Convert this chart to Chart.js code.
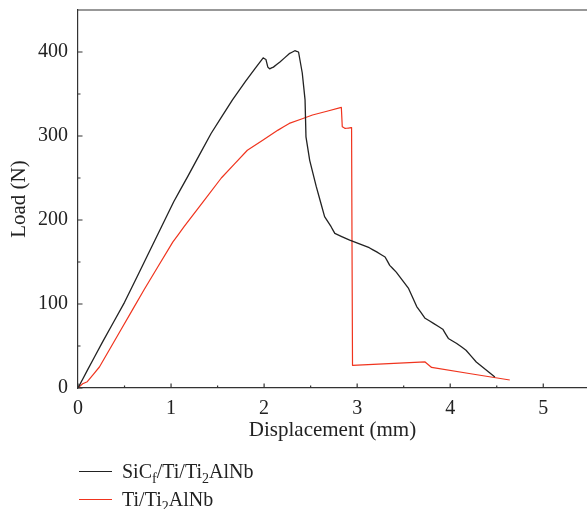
<!DOCTYPE html>
<html lang="en">
<head>
  <meta charset="UTF-8">
  <title>Load vs displacement</title>
  <style>
    body { margin: 0; background: #fff; }
    #wrap { position: relative; width: 587px; height: 509px; }
    #legend {
      position: absolute; left: 79px; top: 457px;
      font-family: "Liberation Serif", serif; font-size: 20px; color: #222;
    }
    .item { height: 28px; display: flex; align-items: center; }
    .swatch { width: 33px; height: 0; border-top: 1.3px solid; margin-right: 10px; }
    sub { font-size: 14px; vertical-align: -5px; line-height: 0; }
  </style>
</head>
<body>
  <div id="wrap">
    <canvas id="chart"></canvas>
    <div id="legend">
      <div class="item"><span class="swatch" style="border-color:#222"></span><span>SiC<sub>f</sub>/Ti/Ti<sub>2</sub>AlNb</span></div>
      <div class="item"><span class="swatch" style="border-color:#f0341e"></span><span>Ti/Ti<sub>2</sub>AlNb</span></div>
    </div>
  </div>

  <script src="https://cdn.jsdelivr.net/npm/chart.js"></script>
  <script>
    // SiCf/Ti/Ti2AlNb
    const sicX = [0, 0.1, 0.26, 0.5, 0.77, 1.03, 1.18, 1.43, 1.66, 1.8, 1.9, 1.99, 2.02, 2.04, 2.06, 2.1, 2.17, 2.27, 2.33, 2.37,
      2.41, 2.44, 2.45, 2.49, 2.56, 2.65, 2.72, 2.76, 2.92, 3.13, 3.21, 3.3, 3.35, 3.42, 3.55, 3.64,
      3.73, 3.82, 3.92, 3.98, 4.07, 4.17, 4.28, 4.38, 4.48];
    const sicY = [0, 21, 54, 102, 163, 222, 252, 303, 343, 365, 380, 393, 391, 382, 380, 382, 388, 398, 401.5, 400,
      375, 343, 299, 271, 240, 204, 192, 184, 176, 167, 162, 156, 146, 138, 119, 97,
      83, 77, 70, 59, 53, 45, 31, 22, 13];

    // Ti/Ti2AlNb
    const tiX = [0, 0.05, 0.1, 0.23, 0.46, 0.71, 1.02, 1.14, 1.54, 1.82, 2.15, 2.27, 2.52, 2.83, 2.84, 2.87, 2.94,
      2.95, 3.73, 3.8, 4.64];
    const tiY = [0, 5, 7.5, 25, 69, 117, 174, 192, 250, 283, 307, 315, 325, 334, 311, 309, 310,
      27, 31, 24.5, 9.5];

    const xLabels = [0, 1, 2, 3, 4, 5];
    const yLabels = [0, 100, 200, 300, 400];

    const toPoints = (xs, ys) => xs.map((x, i) => ({ x: x, y: ys[i] }));
    const axisColor = "#333";
    const tickFont = { family: "'Liberation Serif', serif", size: 20 };
    const titleFont = { family: "'Liberation Serif', serif", size: 21 };

    // top frame line + inward tick marks
    const frame = {
      id: "frame",
      afterDraw(chart) {
        const { ctx, chartArea: a, scales: { x, y } } = chart;
        ctx.save();
        ctx.strokeStyle = axisColor;
        ctx.lineWidth = 1.2;
        ctx.beginPath();
        ctx.moveTo(a.left, a.top);
        ctx.lineTo(a.right, a.top);
        x.ticks.forEach(t => {
          const px = x.getPixelForValue(t.value);
          const len = xLabels.includes(t.value) ? 4.5 : 2.5;
          ctx.moveTo(px, a.bottom);
          ctx.lineTo(px, a.bottom - len);
        });
        y.ticks.forEach(t => {
          const py = y.getPixelForValue(t.value);
          const len = yLabels.includes(t.value) ? 4.5 : 2.5;
          ctx.moveTo(a.left, py);
          ctx.lineTo(a.left + len, py);
        });
        ctx.stroke();
        ctx.restore();
      }
    };

    new Chart(document.getElementById("chart"), {
      type: "line",
      data: {
        datasets: [{
          label: "SiCf/Ti/Ti2AlNb",
          data: toPoints(sicX, sicY),
          borderColor: "#222",
          borderWidth: 1.3,
          borderJoinStyle: "round",
          pointRadius: 0,
          tension: 0.001
        }, {
          label: "Ti/Ti2AlNb",
          data: toPoints(tiX, tiY),
          borderColor: "#f0341e",
          borderWidth: 1.2,
          borderJoinStyle: "round",
          pointRadius: 0,
          tension: 0.001
        }]
      },
      options: {
        responsive: true,
        maintainAspectRatio: false,
        animation: false,
        layout: { padding: { top: 10, right: 0, bottom: 66, left: 0 } },
        plugins: { legend: { display: false }, tooltip: { enabled: false } },
        scales: {
          x: {
            type: "linear",
            min: 0,
            max: 5.47,
            afterFit: s => { s.height = 55; },
            grid: { display: false, drawTicks: false },
            border: { display: true, color: axisColor, width: 1.2 },
            ticks: {
              stepSize: 0.5,
              includeBounds: false,
              autoSkip: false,
              maxRotation: 0,
              padding: 9,
              color: "#222",
              font: tickFont,
              callback: v => xLabels.includes(v) ? String(v) : ""
            },
            title: {
              display: true,
              text: "Displacement (mm)",
              color: "#222",
              font: titleFont,
              padding: { top: 0, bottom: 0 }
            }
          },
          y: {
            min: 0,
            max: 450,
            afterFit: s => { s.width = 78; s.paddingTop = 0; s.paddingBottom = 0; },
            grid: { display: false, drawTicks: false },
            border: { display: true, color: axisColor, width: 1.2 },
            ticks: {
              stepSize: 50,
              autoSkip: false,
              padding: 10,
              color: "#222",
              font: tickFont,
              callback: v => yLabels.includes(v) ? String(v) : ""
            },
            title: {
              display: true,
              text: "Load (N)",
              color: "#222",
              font: titleFont,
              padding: { top: 7, bottom: 0 }
            }
          }
        }
      },
      plugins: [frame]
    });
  </script>
</body>
</html>
